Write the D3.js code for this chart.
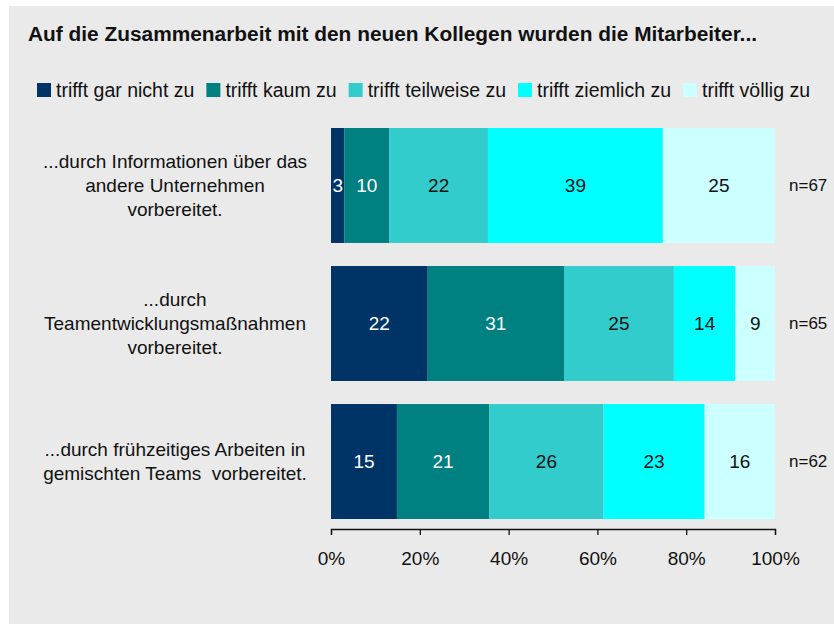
<!DOCTYPE html>
<html lang="de">
<head>
<meta charset="UTF-8">
<script src="https://d3js.org/d3.v7.min.js"></script>
<title>Zusammenarbeit</title>
<style>
  body { margin: 0; background: #fff; }
  svg text { font-family: "Liberation Sans", Arial, sans-serif; fill: #111; }
</style>
</head>
<body>
<svg id="chart" width="834" height="624"></svg>
<script>
// data
var title = "Auf die Zusammenarbeit mit den neuen Kollegen wurden die Mitarbeiter...";
var categories = ["trifft gar nicht zu", "trifft kaum zu", "trifft teilweise zu", "trifft ziemlich zu", "trifft völlig zu"];
var colors = ["#003366", "#008080", "#33cccc", "#00ffff", "#ccffff"];
var textColors = ["#fff", "#fff", "#111", "#111", "#111"];
var rowLabels = [
  ["...durch Informationen über das", "andere Unternehmen", "vorbereitet."],
  ["...durch", "Teamentwicklungsmaßnahmen", "vorbereitet."],
  ["...durch frühzeitiges Arbeiten in", "gemischten Teams  vorbereitet."]
];
var row1 = [3, 10, 22, 39, 25];
var row2 = [22, 31, 25, 14, 9];
var row3 = [15, 21, 26, 23, 16];
var nLabels = ["n=67", "n=65", "n=62"];
var tickValues = [0, 0.2, 0.4, 0.6, 0.8, 1];

var rows = [row1, row2, row3];

var svg = d3.select("#chart");

svg.append("rect")
  .attr("x", 9).attr("y", 6)
  .attr("width", 825).attr("height", 618)
  .attr("fill", "#eaeaea");

svg.append("text")
  .attr("x", 28).attr("y", 41)
  .attr("font-size", "19.5px")
  .attr("font-weight", "bold")
  .attr("textLength", 729)
  .attr("lengthAdjust", "spacingAndGlyphs")
  .text(title);

// legend
var lx = 37;
categories.forEach(function(c, i) {
  svg.append("rect")
    .attr("x", lx).attr("y", 83)
    .attr("width", 14).attr("height", 14)
    .attr("fill", colors[i]);
  var t = svg.append("text")
    .attr("x", lx + 19).attr("y", 97)
    .attr("font-size", "19.5px")
    .text(c);
  lx += 19 + t.node().getComputedTextLength() + 12;
});

var x = d3.scaleLinear().domain([0, 1]).range([331, 775]);
var y = d3.scaleBand().domain(d3.range(rows.length))
  .range([128, 519]).paddingInner(0.167).paddingOuter(0);

rows.forEach(function(vals, r) {
  var total = d3.sum(vals);
  var cum = 0;
  var g = svg.append("g");
  vals.forEach(function(v, i) {
    var x0 = x(cum / total), x1 = x((cum + v) / total);
    g.append("rect")
      .attr("x", x0).attr("y", y(r))
      .attr("width", x1 - x0).attr("height", y.bandwidth())
      .attr("fill", colors[i]);
    g.append("text")
      .attr("x", (x0 + x1) / 2)
      .attr("y", y(r) + y.bandwidth() / 2)
      .attr("dy", "0.35em")
      .attr("text-anchor", "middle")
      .attr("font-size", "19px")
      .style("fill", textColors[i])
      .text(v);
    cum += v;
  });

  var cy = y(r) + y.bandwidth() / 2;
  var lines = rowLabels[r];
  var lh = 24;
  lines.forEach(function(line, k) {
    svg.append("text")
      .attr("x", 175)
      .attr("y", cy + (k - (lines.length - 1) / 2) * lh)
      .attr("dy", "0.35em")
      .attr("text-anchor", "middle")
      .attr("font-size", "19px")
      .style("white-space", "pre")
      .text(line);
  });

  svg.append("text")
    .attr("x", 789).attr("y", cy)
    .attr("dy", "0.35em")
    .attr("font-size", "17px")
    .text(nLabels[r]);
});

var axis = svg.append("g")
  .attr("transform", "translate(0,529)")
  .call(d3.axisBottom(x).tickValues(tickValues)
    .tickFormat(d3.format(".0%")).tickSize(6).tickSizeOuter(6));
axis.selectAll("path, line").attr("stroke", "#111").attr("stroke-width", 1.3);
axis.selectAll("text")
  .attr("font-size", "19px")
  .attr("font-family", "Liberation Sans, Arial, sans-serif")
  .attr("y", 29)
  .attr("dy", "0.35em")
  .style("fill", "#111");
</script>
</body>
</html>
